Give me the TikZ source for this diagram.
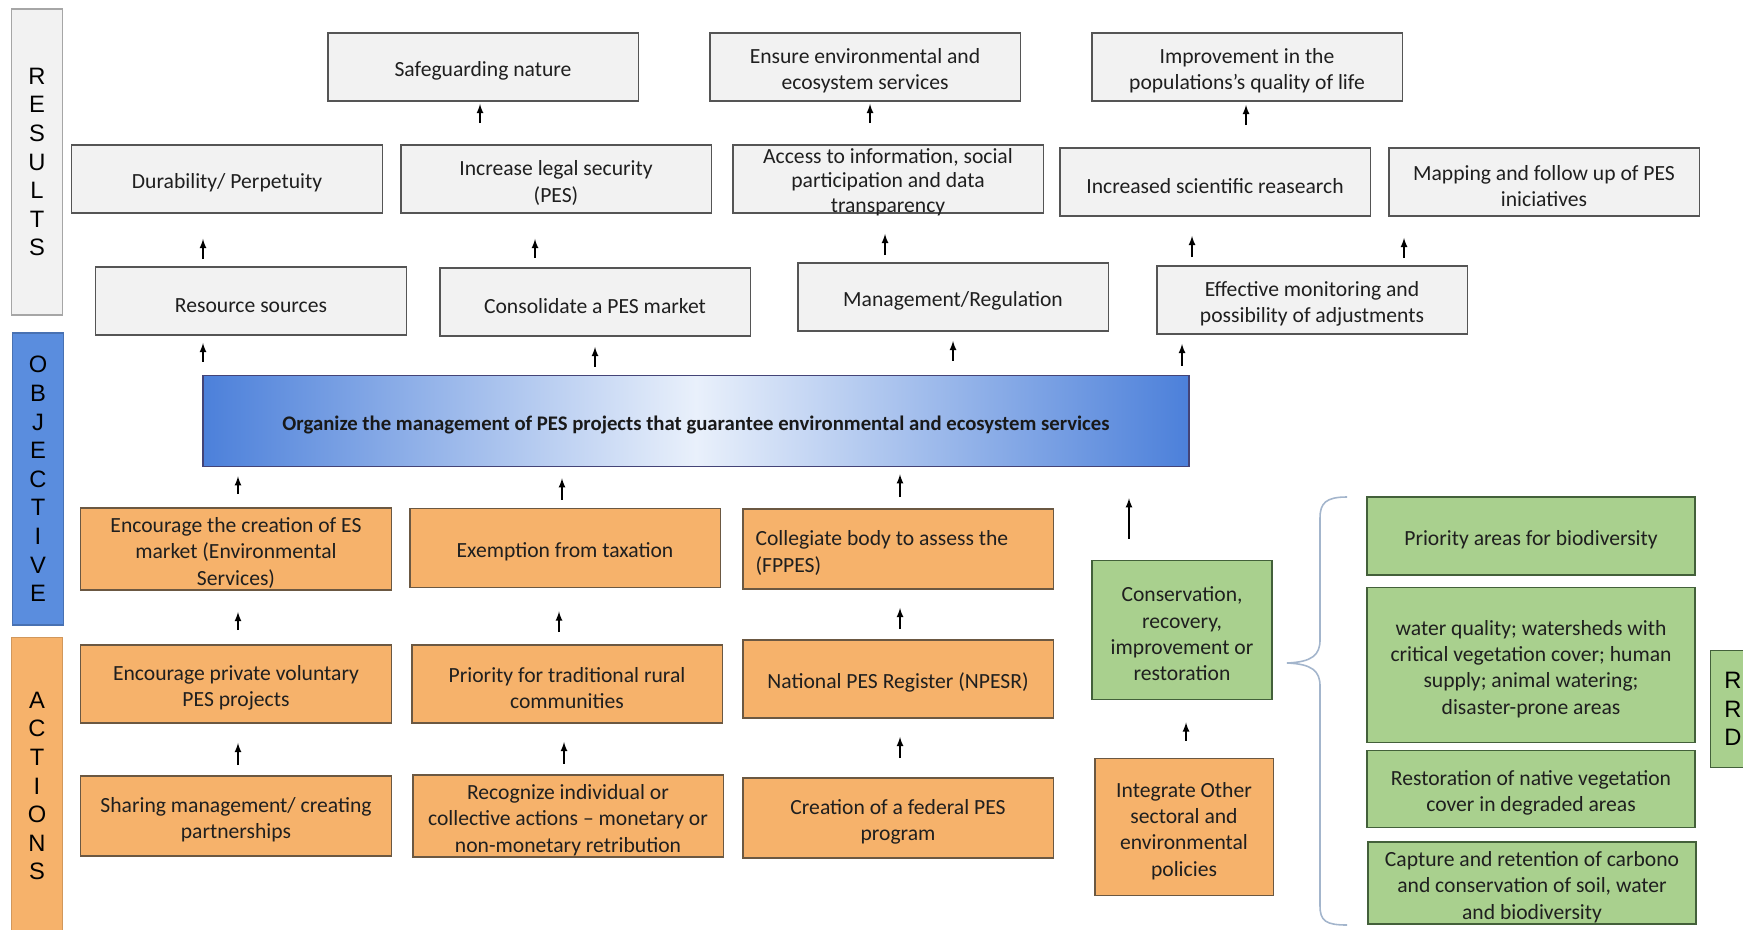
\documentclass[tikz,border=0pt]{standalone}
\usepackage{fontspec}
\setmainfont{Carlito}
\newfontfamily\barfont{Liberation Sans}
\usepackage{tikz}
\usetikzlibrary{arrows}

\definecolor{boxgray}{HTML}{F2F2F2}
\definecolor{edgegray}{HTML}{555555}
\definecolor{boxorange}{HTML}{F6B26B}
\definecolor{edgeorange}{HTML}{6B5842}
\definecolor{boxgreen}{HTML}{A9D08E}
\definecolor{edgegreen}{HTML}{43603A}
\definecolor{barblue}{HTML}{5A8DDE}
\definecolor{objdark}{HTML}{4C80DA}
\definecolor{objlight}{HTML}{E9F0FB}
\definecolor{bracecol}{HTML}{A3B5CC}

\begin{document}
\begin{tikzpicture}[x=0.02cm,y=-0.02cm,
  box/.style={draw, line width=1.1pt, minimum width=6.22cm, minimum height=1.36cm, inner sep=1pt,
    text width=5.9cm, align=flush center, text=black!88, font=\fontsize{12.3}{15}\selectfont,
    execute at begin node={\rule{0pt}{13pt}}},
  gbox/.style={box, fill=boxgray, draw=edgegray},
  obox/.style={box, fill=boxorange, draw=edgeorange, minimum height=1.58cm},
  grbox/.style={box, fill=boxgreen, draw=edgegreen, minimum width=6.56cm, text width=6.3cm},
  bar/.style={draw, line width=0.8pt, minimum width=1.02cm, inner sep=0pt, align=center,
    font=\barfont\fontsize{13.5}{16.3}\selectfont},
  arr/.style={-latex, line width=0.8pt}]

\useasboundingbox (0,0) rectangle (1743,929);

% side bars
\node[bar, fill=boxgray, draw=gray!70, minimum height=6.12cm] (resbar) at (37,162) {R\\E\\S\\U\\L\\T\\S};
\node[bar, fill=barblue, draw=barblue!80!black, minimum height=5.84cm] (objbar) at (38,479) {O\\B\\J\\E\\C\\T\\I\\V\\E};
\node[bar, fill=boxorange, draw=boxorange!85!black, minimum height=5.94cm] (actbar) at (37,786) {A\\C\\T\\I\\O\\N\\S};
\node[bar, fill=boxgreen, draw=edgegreen, minimum width=0.9cm, minimum height=2.34cm] (rrdbar) at (1733,709) {R\\R\\D};

% results
\node[gbox] (safe) at (483,67) {Safeguarding nature};
\node[gbox] (ensure) at (865,67) {Ensure environmental and\\ecosystem services};
\node[gbox] (improv) at (1247,67) {Improvement in the\\populations’s quality of life};

\node[gbox] (dur) at (227,179) {Durability/ Perpetuity};
\node[gbox] (legal) at (556,179) {Increase legal security\\(PES)};
\node[gbox] (access) at (888,179) {};
\node[align=center, text=black!88, font=\fontsize{12.3}{14}\selectfont] (accesstxt) at (888,182) {Access to information, social\\participation and data\\transparency};
\node[gbox] (sci) at (1215,182) {Increased scientific reasearch};
\node[gbox] (map) at (1544,182) {Mapping and follow up of PES\\iniciatives};

\node[gbox] (rs) at (251,301) {Resource sources};
\node[gbox] (pesmkt) at (595,302) {Consolidate a PES market};
\node[gbox] (mgmt) at (953,297) {Management/Regulation};
\node[gbox] (mon) at (1312,300) {Effective monitoring and\\possibility of adjustments};

% objective
\node[draw=edgegray!80!blue, line width=0.9pt, left color=objdark, right color=objdark, middle color=objlight,
  minimum width=19.72cm, minimum height=1.82cm, text=black!90,
  font=\bfseries\fontsize{11.8}{14}\selectfont] (obj) at (696,421) {\rule{0pt}{13pt}Organize the management of PES projects that guarantee environmental and ecosystem services};

% actions
\node[obox, minimum height=1.6cm] (encES) at (236,549) {Encourage the creation of ES\\market (Environmental\\Services)};
\node[obox] (exempt) at (565,548) {Exemption from taxation};
\node[obox, minimum height=1.6cm, align=flush left, text width=5.7cm] (coll) at (898,549) {Collegiate body to assess the\\(FPPES)};

\node[obox, minimum height=1.56cm] (priv) at (236,684) {Encourage private voluntary\\PES projects};
\node[obox, minimum height=1.56cm] (prio) at (567,684) {Priority for traditional rural\\communities};
\node[obox, minimum height=1.56cm] (npesr) at (898,679) {National PES Register (NPESR)};

\node[obox, minimum height=1.6cm] (share) at (236,816) {Sharing management/ creating\\partnerships};
\node[obox, minimum height=1.6cm] (recog) at (568,816) {Recognize individual or\\collective actions – monetary or\\non-monetary retribution};
\node[obox, minimum height=1.6cm] (fed) at (898,818) {Creation of a federal PES\\program};

\node[box, fill=boxgreen, draw=edgegreen, minimum width=3.6cm, minimum height=2.78cm, text width=3.3cm] (conserv) at (1182,630) {Conservation,\\recovery,\\improvement or\\restoration};
\node[obox, minimum width=3.58cm, minimum height=2.74cm, text width=3.3cm] (integ) at (1184,827) {Integrate Other\\sectoral and\\environmental\\policies};

\node[grbox, minimum height=1.56cm] (bio) at (1531,536) {Priority areas for biodiversity};
\node[grbox, minimum height=3.1cm] (water) at (1531,665) {water quality; watersheds with\\critical vegetation cover; human\\supply; animal watering;\\disaster-prone areas};
\node[grbox, minimum height=1.54cm] (rest) at (1531,789) {Restoration of native vegetation\\cover in degraded areas};
\node[grbox, minimum height=1.6cm] (carb) at (1532,883) {Capture and retention of carbono\\and conservation of soil, water\\and biodiversity};

% brace
\draw[bracecol, line width=0.9pt] (1347,497) .. controls (1326,497) and (1320,503) .. (1320,518) -- (1320,640)
  .. controls (1320,655) and (1312,662) .. (1287,663) .. controls (1312,664) and (1320,671) .. (1320,686)
  -- (1320,906) .. controls (1320,921) and (1326,925) .. (1347,925);

% arrows
\draw[arr, shorten <=0.42cm, shorten >=0.04cm] (legal.north -| 480,0) -- (safe.south -| 480,0);
\draw[arr, shorten <=0.42cm, shorten >=0.04cm] (access.north -| 870,0) -- (ensure.south -| 870,0);
\draw[arr, shorten <=0.44cm, shorten >=0.06cm] (sci.north -| 1246,0) -- (improv.south -| 1246,0);

\draw[arr, shorten <=0.14cm, shorten >=0.5cm] (rs.north -| 203,0) -- (dur.south -| 203,0);
\draw[arr, shorten <=0.18cm, shorten >=0.5cm] (pesmkt.north -| 535,0) -- (legal.south -| 535,0);
\draw[arr, shorten <=0.14cm, shorten >=0.4cm] (mgmt.north -| 885,0) -- (access.south -| 885,0);
\draw[arr, shorten <=0.16cm, shorten >=0.38cm] (mon.north -| 1192,0) -- (sci.south -| 1192,0);
\draw[arr, shorten <=0.14cm, shorten >=0.42cm] (mon.north -| 1404,0) -- (map.south -| 1404,0);

\draw[arr, shorten <=0.26cm, shorten >=0.14cm] (obj.north -| 203,0) -- (rs.south -| 203,0);
\draw[arr, shorten <=0.16cm, shorten >=0.2cm] (obj.north -| 595,0) -- (pesmkt.south -| 595,0);
\draw[arr, shorten <=0.28cm, shorten >=0.18cm] (obj.north -| 953,0) -- (mgmt.south -| 953,0);
\draw[arr, shorten <=0.18cm, shorten >=0.18cm] (obj.north -| 1182,0) -- (mon.south -| 1182,0);

\draw[arr, shorten <=0.26cm, shorten >=0.18cm] (encES.north -| 238,0) -- (obj.south -| 238,0);
\draw[arr, shorten <=0.16cm, shorten >=0.22cm] (exempt.north -| 562,0) -- (obj.south -| 562,0);
\draw[arr, shorten <=0.22cm, shorten >=0.14cm] (coll.north -| 900,0) -- (obj.south -| 900,0);
\draw[arr, shorten <=0.42cm, shorten >=0.62cm] (conserv.north -| 1129,0) -- (obj.south -| 1129,0);

\draw[arr, shorten <=0.28cm, shorten >=0.42cm] (priv.north -| 238,0) -- (encES.south -| 238,0);
\draw[arr, shorten <=0.24cm, shorten >=0.46cm] (prio.north -| 559,0) -- (exempt.south -| 559,0);
\draw[arr, shorten <=0.2cm, shorten >=0.36cm] (npesr.north -| 900,0) -- (coll.south -| 900,0);

\draw[arr, shorten <=0.2cm, shorten >=0.38cm] (share.north -| 238,0) -- (priv.south -| 238,0);
\draw[arr, shorten <=0.2cm, shorten >=0.36cm] (recog.north -| 564,0) -- (prio.south -| 564,0);
\draw[arr, shorten <=0.38cm, shorten >=0.36cm] (fed.north -| 900,0) -- (npesr.south -| 900,0);

\draw[arr, shorten <=0.34cm, shorten >=0.44cm] (integ.north -| 1186,0) -- (conserv.south -| 1186,0);
\end{tikzpicture}
\end{document}
